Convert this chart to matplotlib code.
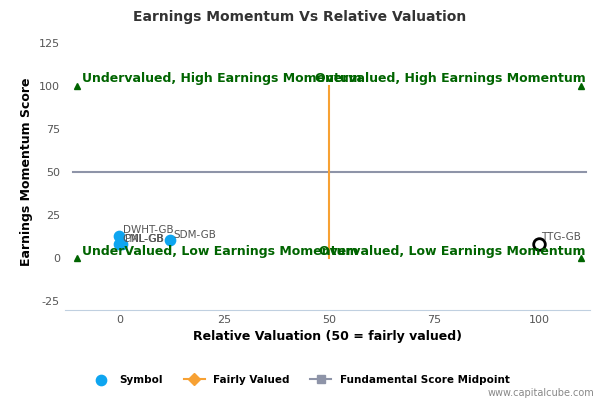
import matplotlib.pyplot as plt

plt.rcParams['axes.unicode_minus'] = False

# data
sym_names = ['DWHT-GB', 'CML-GB', 'PNL-GB', 'SDM-GB']
sym_x = [0, 0, 0.5, 12]
sym_y = [13, 8, 8, 10.5]
hl_name = 'TTG-GB'
hl_x, hl_y = 100, 8
fair_x = [50, 50]
fair_y = [0, 100]
mid_x = [-11, 111]
mid_y = [50, 50]
corner_x = [-10, 110, -10, 110]
corner_y = [100, 100, 0, 0]
quad_text = ['Undervalued, High Earnings Momentum', 'Overvalued, High Earnings Momentum',
             'UnderValued, Low Earnings Momentum', 'Overvalued, Low Earnings Momentum']
quad_pos = [(-9, 102), (111, 102), (-9, 2), (111, 2)]

fig = plt.figure(figsize=(6, 4), dpi=100)
ax = fig.add_axes([0.108, 0.225, 0.875, 0.69])

ax.plot(mid_x, mid_y, color='#8e94a8', lw=1.5, label='Fundamental Score Midpoint', marker='s', markevery=[])
ax.plot(fair_x, fair_y, color='#f7a133', lw=1.5, label='Fairly Valued', marker='D', markevery=[])
ax.plot(corner_x, corner_y, '^', color='#006400', ms=5, ls='none')
ax.scatter(sym_x, sym_y, s=55, color='#0ea5f0', zorder=3, label='Symbol')
for n, x, y in zip(sym_names, sym_x, sym_y):
    ax.text(x + 0.8, y + 1.5, n, fontsize=7.5, color='#555555')
ax.scatter([hl_x], [hl_y], s=70, facecolor='white', edgecolor='black', lw=2, zorder=3)
ax.text(hl_x + 0.5, hl_y + 2.5, hl_name, fontsize=7.5, color='#555555')

for t, (x, y), ha in zip(quad_text, quad_pos, ['left', 'right', 'left', 'right']):
    ax.text(x, y, t, fontsize=9, color='#006400', fontweight='bold', ha=ha)

ax.set_xlim(-13, 112)
ax.set_ylim(-30, 130)
ax.set_xticks([0, 25, 50, 75, 100])
ax.set_yticks([-25, 0, 25, 50, 75, 100, 125])
ax.tick_params(labelsize=8, colors='#555555', length=0)
for s in ['top', 'right', 'left']:
    ax.spines[s].set_visible(False)
ax.spines['bottom'].set_color('#c0d0e0')
ax.set_xlabel('Relative Valuation (50 = fairly valued)', fontsize=9, fontweight='bold')
ax.set_ylabel('Earnings Momentum Score', fontsize=9, fontweight='bold')
fig.suptitle('Earnings Momentum Vs Relative Valuation', fontsize=10, fontweight='bold', color='#333333', y=0.975)

h, l = ax.get_legend_handles_labels()
order = [2, 1, 0]
fig.legend([h[i] for i in order], [l[i] for i in order], loc='lower center', ncol=3, frameon=False,
           bbox_to_anchor=(0.5, 0.015), prop={'weight': 'bold', 'size': 7.5})
fig.text(0.99, 0.01, 'www.capitalcube.com', fontsize=7, color='#888888', ha='right')
fig.savefig('out.png')
